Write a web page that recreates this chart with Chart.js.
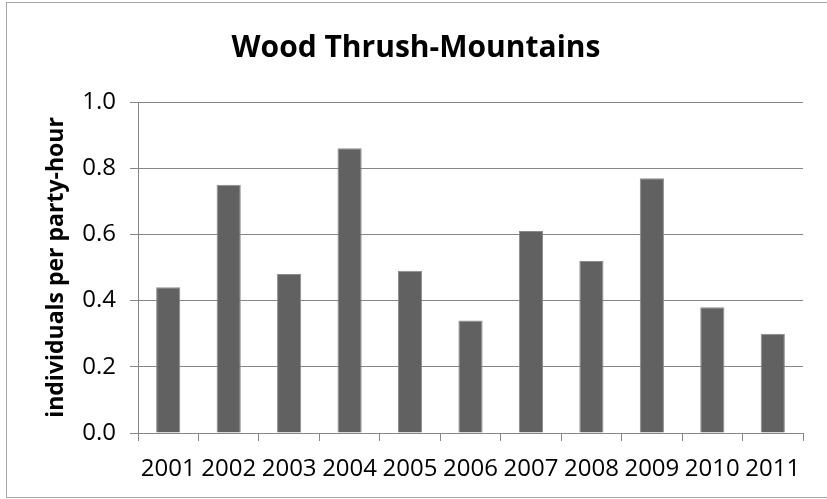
<!DOCTYPE html>
<html>
<head>
<meta charset="utf-8">
<script src="https://cdn.jsdelivr.net/npm/chart.js@4/dist/chart.umd.min.js"></script>
<style>
  html, body { margin: 0; padding: 0; background: #fff; }
  #wrap { width: 827px; height: 499px; }
</style>
</head>
<body>
<div id="wrap"><canvas id="chart" width="827" height="499"></canvas></div>
<script>
// data
var years = ['2001', '2002', '2003', '2004', '2005', '2006', '2007', '2008', '2009', '2010', '2011'];
var perPartyHour = [0.44, 0.75, 0.48, 0.86, 0.49, 0.34, 0.61, 0.52, 0.77, 0.38, 0.30];
var yTicks = [0, 0.2, 0.4, 0.6, 0.8, 1.0];

var chartTitle = 'Wood Thrush-Mountains';
var yTitle = 'individuals per party-hour';

var lineGray = '#868686';

// the thin frame round the whole chart
var frame = {
  id: 'frame',
  beforeDraw: function (chart) {
    var ctx = chart.ctx;
    ctx.save();
    ctx.fillStyle = '#fff';
    ctx.fillRect(0, 0, chart.width, chart.height);
    ctx.strokeStyle = '#a6a6a6';
    ctx.lineWidth = 1;
    ctx.strokeRect(6.5, 2.5, 830, 495);
    ctx.restore();
  }
};

var chart = new Chart(document.getElementById('chart'), {
  type: 'bar',
  data: {
    labels: years,
    datasets: [{
      label: chartTitle,
      data: perPartyHour,
      backgroundColor: '#616161',
      borderColor: '#8c8c8c',
      borderWidth: 1,
      barPercentage: 0.4,
      categoryPercentage: 1.0
    }]
  },
  options: {
    responsive: false,
    animation: false,
    events: [],
    layout: {
      padding: { left: 29, right: 24, top: 0, bottom: 2 }
    },
    plugins: {
      legend: { display: false },
      tooltip: { enabled: false },
      title: {
        display: true,
        text: chartTitle,
        color: '#000',
        font: { family: 'Open Sans', size: 30, weight: 'bold', lineHeight: 1.2 },
        padding: { top: 30, bottom: 36 }
      }
    },
    scales: {
      x: {
        grid: {
          offset: true,
          drawOnChartArea: false,
          drawTicks: true,
          tickLength: 8,
          color: lineGray
        },
        border: { color: lineGray, width: 1 },
        ticks: {
          color: '#000',
          font: { family: 'Open Sans', size: 24 },
          padding: 14,
          maxRotation: 0,
          autoSkip: false
        },
        afterFit: function (scale) { scale.height = 64; }
      },
      y: {
        min: 0,
        max: 1,
        afterBuildTicks: function (scale) {
          scale.ticks = yTicks.map(function (v) { return { value: v }; });
        },
        grid: {
          color: lineGray,
          lineWidth: 1,
          tickLength: 8,
          drawTicks: true
        },
        border: { color: lineGray, width: 1 },
        ticks: {
          color: '#000',
          font: { family: 'Open Sans', size: 24 },
          padding: 14,
          callback: function (v) { return Number(v).toFixed(1); }
        },
        title: {
          display: true,
          text: yTitle,
          color: '#000',
          font: { family: 'Open Sans', size: 23, weight: 'bold', lineHeight: 1.2 },
          padding: { top: 14, bottom: 0 }
        },
        afterFit: function (scale) { scale.width = 109; }
      }
    }
  },
  plugins: [frame]
});
</script>
</body>
</html>
